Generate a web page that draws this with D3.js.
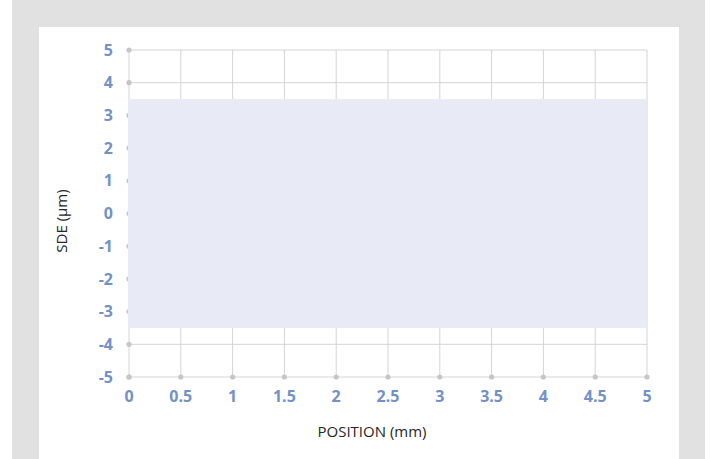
<!DOCTYPE html>
<html>
  <head>
    <meta charset="UTF-8">
    <title>SDE</title>
  </head>
  <style type="text/css">
    body { margin: 0; }
    .tick-label { font: bold 16px "Open Sans", sans-serif; fill: #7391c9; }
    .title { font: 15px "Open Sans", sans-serif; fill: #262626; }
  </style>
  <body>
    <svg width="710" height="459"></svg>
  </body>
  <script src="https://d3js.org/d3.v7.min.js"></script>
  <script type="text/javascript">
    const xTicks = [0, 0.5, 1, 1.5, 2, 2.5, 3, 3.5, 4, 4.5, 5];
    const yTicks = [5, 4, 3, 2, 1, 0, -1, -2, -3, -4, -5];
    const band = [-3.5, 3.5];

    let svg = d3.select('svg');

    svg.append('rect').attr('x', 12).attr('y', 0).attr('width', 693).attr('height', 459).attr('fill', '#e1e1e1');
    svg.append('rect').attr('x', 39).attr('y', 27).attr('width', 640).attr('height', 432).attr('fill', '#fff');

    const x = d3.scaleLinear().domain([0, 5]).range([129, 647]);
    const y = d3.scaleLinear().domain([-5, 5]).range([377, 50]);

    // grid
    svg.selectAll('.vg').data(xTicks).enter().append('line')
      .attr('x1', d => x(d)).attr('x2', d => x(d))
      .attr('y1', y(5)).attr('y2', y(-5))
      .attr('stroke', '#d4d4d4').attr('stroke-width', 1);
    svg.selectAll('.hg').data(yTicks).enter().append('line')
      .attr('y1', d => y(d)).attr('y2', d => y(d))
      .attr('x1', x(0)).attr('x2', x(5))
      .attr('stroke', '#d4d4d4').attr('stroke-width', 1);

    // dots on axes
    svg.selectAll('.yd').data(yTicks).enter().append('circle')
      .attr('cx', x(0)).attr('cy', d => y(d)).attr('r', 2.6).attr('fill', '#c6c6c6');
    svg.selectAll('.xd').data(xTicks).enter().append('circle')
      .attr('cx', d => x(d)).attr('cy', y(-5)).attr('r', 2.6).attr('fill', '#c6c6c6');

    // tolerance band
    svg.append('rect')
      .attr('x', x(0) - 1).attr('y', y(band[1]))
      .attr('width', x(5) - x(0) + 1).attr('height', y(band[0]) - y(band[1]))
      .attr('fill', '#e8ebf6');

    // tick labels
    svg.selectAll('.yl').data(yTicks).enter().append('text')
      .attr('class', 'tick-label')
      .attr('x', 113).attr('y', d => y(d)).attr('dy', '0.35em')
      .attr('text-anchor', 'end')
      .text(d => d);
    svg.selectAll('.xl').data(xTicks).enter().append('text')
      .attr('class', 'tick-label')
      .attr('x', d => x(d)).attr('y', 396).attr('dy', '0.35em')
      .attr('text-anchor', 'middle')
      .text(d => d);

    // titles
    svg.append('text').attr('class', 'title')
      .attr('transform', 'translate(67,221) rotate(-90)')
      .attr('text-anchor', 'middle')
      .text('SDE (µm)');
    svg.append('text').attr('class', 'title')
      .attr('x', 372).attr('y', 437)
      .attr('text-anchor', 'middle')
      .text('POSITION (mm)');
  </script>
</html>
